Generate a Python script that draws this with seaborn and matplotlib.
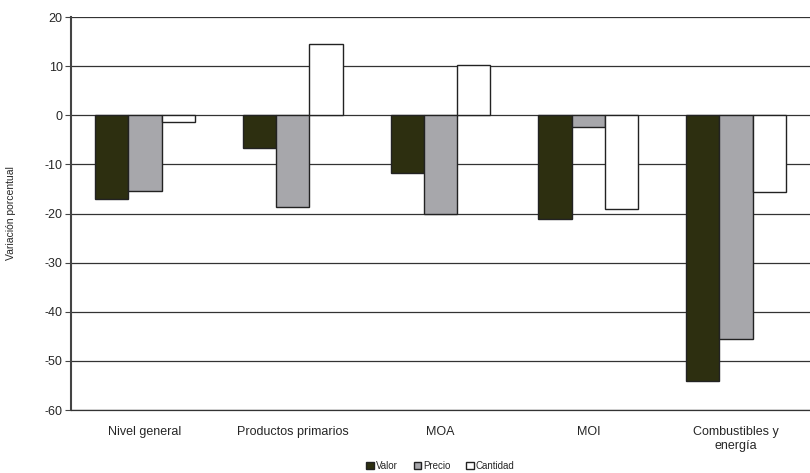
import matplotlib
matplotlib.use("Agg")
import matplotlib.pyplot as plt
import seaborn as sns
import pandas as pd

categories = ["Nivel general", "Productos primarios", "MOA", "MOI", "Combustibles y\nenergía"]
valor = [-17.1, -6.6, -11.8, -21.2, -54.1]
precio = [-15.5, -18.6, -20.0, -2.3, -45.5]
cantidad = [-1.4, 14.5, 10.3, -19.1, -15.7]
series = ["Valor", "Precio", "Cantidad"]
colors = ["#2d2f10", "#a7a7ab", "#ffffff"]

df = pd.DataFrame({
    "cat": categories * 3,
    "serie": ["Valor"] * 5 + ["Precio"] * 5 + ["Cantidad"] * 5,
    "val": valor + precio + cantidad,
})

sns.set_style("white")
plt.rcParams["font.family"] = ["Liberation Sans", "DejaVu Sans"]
plt.rcParams["axes.unicode_minus"] = False

fig = plt.figure(figsize=(8.1, 4.73), dpi=100)
ax = fig.add_axes([0.0877, 0.133, 0.9123, 0.831])

sns.barplot(data=df, x="cat", y="val", hue="serie", hue_order=series,
            palette=colors, width=0.675, gap=0, edgecolor="#222222",
            linewidth=1.0, saturation=1, ax=ax, zorder=3)

ax.set_ylim(-60, 20)
ax.set_yticks(range(-60, 21, 10))
ax.set_xlim(-0.5, 4.5)
ax.grid(axis="y", color="#333333", linewidth=0.9, zorder=0)
ax.set_axisbelow(True)
for s in ["top", "right"]:
    ax.spines[s].set_visible(False)
ax.spines["bottom"].set_color("#333333")
ax.spines["bottom"].set_linewidth(0.9)
ax.spines["left"].set_color("#444444")
ax.spines["left"].set_linewidth(1.5)
ax.tick_params(axis="y", left=True, length=4, width=0.8, color="#444444",
               labelsize=9, pad=2)
ax.tick_params(axis="x", bottom=False, labelsize=9, pad=8)
ax.set_xlabel("")
ax.set_ylabel("Variación porcentual", fontsize=7.5)
ax.yaxis.set_label_coords(-0.074, 0.5)

ax.legend(loc="center", bbox_to_anchor=(0.5, -0.142), ncol=3,
          frameon=False, fontsize=7, handlelength=0.8, handleheight=0.8,
          handletextpad=0.2, columnspacing=1.6, borderpad=0.1)

fig.savefig("out.png", dpi=100)
